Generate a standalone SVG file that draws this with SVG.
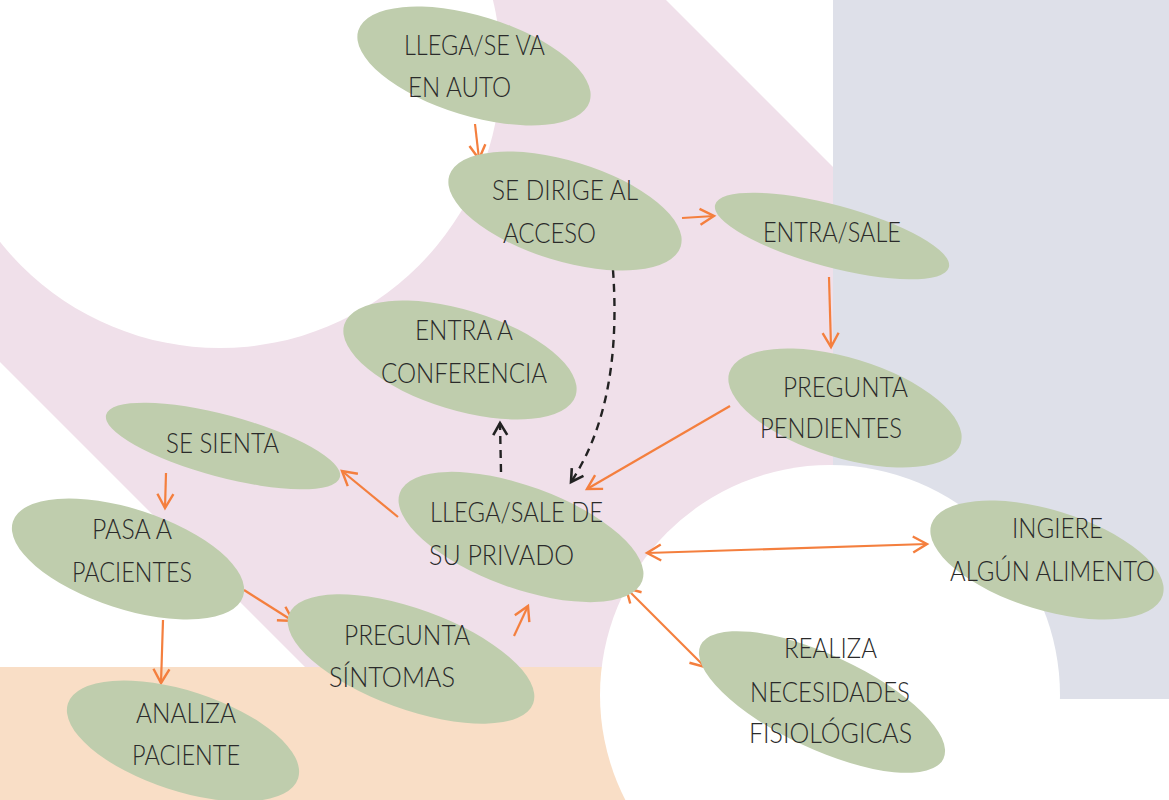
<svg xmlns="http://www.w3.org/2000/svg" width="1169" height="800" viewBox="0 0 1169 800">
<style>
.node ellipse{fill:#bfcdad}
.node text{font-family:Lato,"Liberation Sans",Arial,sans-serif;font-weight:300;font-size:27px;fill:#2a2a2a}
.c{fill:none;stroke:#f47f3e;stroke-width:2.2}
.d{fill:none;stroke:#222;stroke-width:2.4;stroke-dasharray:8 6}
</style>
<defs>
<marker id="ao" markerUnits="userSpaceOnUse" markerWidth="20" markerHeight="20" viewBox="0 0 20 20" refX="17" refY="10" orient="auto-start-reverse">
<path d="M3,2 L17,10 L3,18" fill="none" stroke="#f47f3e" stroke-width="2.4"/>
</marker>
<marker id="ab" markerUnits="userSpaceOnUse" markerWidth="20" markerHeight="20" viewBox="0 0 20 20" refX="17" refY="10" orient="auto">
<path d="M5,3 L17,10 L5,17" fill="none" stroke="#222" stroke-width="2.6"/>
</marker>
</defs>
<g id="background">
<rect x="0" y="0" width="1169" height="800" fill="#ffffff"/>
<polygon points="666,0 833,167 833,800 438,800 -362,0" fill="#f0e0ea"/>
<rect x="0" y="667" width="700" height="133" fill="#f9dec6"/>
<rect x="833" y="0" width="336" height="699" fill="#dee0e9"/>
<circle cx="220" cy="67" r="281" fill="#ffffff"/>
<circle cx="830" cy="695" r="230" fill="#ffffff"/>
</g>
<g id="connectors">
<line class="c" x1="475" y1="124" x2="479" y2="159" marker-end="url(#ao)"/>
<line class="c" x1="682" y1="218" x2="714" y2="216" marker-end="url(#ao)"/>
<line class="c" x1="829" y1="277" x2="831" y2="347" marker-end="url(#ao)"/>
<line class="c" x1="730" y1="406" x2="587" y2="489" marker-end="url(#ao)"/>
<path class="d" d="M613,270 C618,340 612,420 571,482" marker-end="url(#ab)"/>
<line class="d" x1="501" y1="472" x2="500" y2="423" marker-end="url(#ab)"/>
<line class="c" x1="398" y1="517" x2="342" y2="471" marker-end="url(#ao)"/>
<line class="c" x1="166" y1="473" x2="165" y2="508" marker-end="url(#ao)"/>
<line class="c" x1="244" y1="590" x2="293" y2="621" marker-end="url(#ao)"/>
<line class="c" x1="163" y1="620" x2="161" y2="683" marker-end="url(#ao)"/>
<line class="c" x1="514" y1="636" x2="528" y2="606" marker-end="url(#ao)"/>
<line class="c" x1="647" y1="553" x2="927" y2="544" marker-start="url(#ao)" marker-end="url(#ao)"/>
<line class="c" x1="626" y1="588" x2="705" y2="667" marker-start="url(#ao)" marker-end="url(#ao)"/>
</g>
<g id="n1" class="node">
<ellipse cx="474" cy="66" rx="121" ry="50" transform="rotate(17 474 66)"/>
<text x="404" y="55" textLength="141" lengthAdjust="spacingAndGlyphs">LLEGA/SE VA</text>
<text x="408" y="97" textLength="103" lengthAdjust="spacingAndGlyphs">EN AUTO</text>
</g>
<g id="n2" class="node">
<ellipse cx="565" cy="211" rx="121" ry="50" transform="rotate(17 565 211)"/>
<text x="492" y="200" textLength="146" lengthAdjust="spacingAndGlyphs">SE DIRIGE AL</text>
<text x="503" y="243" textLength="93" lengthAdjust="spacingAndGlyphs">ACCESO</text>
</g>
<g id="n3" class="node">
<ellipse cx="832" cy="236" rx="121" ry="31" transform="rotate(15 832 236)"/>
<text x="763" y="242" textLength="138" lengthAdjust="spacingAndGlyphs">ENTRA/SALE</text>
</g>
<g id="n4" class="node">
<ellipse cx="845" cy="408" rx="121" ry="50" transform="rotate(17 845 408)"/>
<text x="783" y="397" textLength="125" lengthAdjust="spacingAndGlyphs">PREGUNTA</text>
<text x="760" y="438" textLength="142" lengthAdjust="spacingAndGlyphs">PENDIENTES</text>
</g>
<g id="n5" class="node">
<ellipse cx="460" cy="360" rx="121" ry="50" transform="rotate(17 460 360)"/>
<text x="415" y="340" textLength="98" lengthAdjust="spacingAndGlyphs">ENTRA A</text>
<text x="381" y="383" textLength="166" lengthAdjust="spacingAndGlyphs">CONFERENCIA</text>
</g>
<g id="n6" class="node">
<ellipse cx="223" cy="446" rx="121" ry="31" transform="rotate(15 223 446)"/>
<text x="166" y="453" textLength="113" lengthAdjust="spacingAndGlyphs">SE SIENTA</text>
</g>
<g id="n7" class="node">
<ellipse cx="128" cy="559" rx="121" ry="50" transform="rotate(18 128 559)"/>
<text x="92" y="539" textLength="80" lengthAdjust="spacingAndGlyphs">PASA A</text>
<text x="72" y="582" textLength="120" lengthAdjust="spacingAndGlyphs">PACIENTES</text>
</g>
<g id="n8" class="node">
<ellipse cx="183" cy="741" rx="121" ry="50" transform="rotate(18 183 741)"/>
<text x="136" y="723" textLength="100" lengthAdjust="spacingAndGlyphs">ANALIZA</text>
<text x="132" y="765" textLength="108" lengthAdjust="spacingAndGlyphs">PACIENTE</text>
</g>
<g id="n9" class="node">
<ellipse cx="411" cy="659" rx="130" ry="50" transform="rotate(20 411 659)"/>
<text x="344" y="645" textLength="126" lengthAdjust="spacingAndGlyphs">PREGUNTA</text>
<text x="329" y="687" textLength="126" lengthAdjust="spacingAndGlyphs">SÍNTOMAS</text>
</g>
<g id="n10" class="node">
<ellipse cx="521" cy="537" rx="129" ry="51" transform="rotate(20 521 537)"/>
<text x="430" y="522" textLength="173" lengthAdjust="spacingAndGlyphs">LLEGA/SALE DE</text>
<text x="429" y="565" textLength="145" lengthAdjust="spacingAndGlyphs">SU PRIVADO</text>
</g>
<g id="n11" class="node">
<ellipse cx="1047" cy="560" rx="121" ry="50" transform="rotate(17 1047 560)"/>
<text x="1012" y="538" textLength="91" lengthAdjust="spacingAndGlyphs">INGIERE</text>
<text x="950" y="581" textLength="205" lengthAdjust="spacingAndGlyphs">ALGÚN ALIMENTO</text>
</g>
<g id="n12" class="node">
<ellipse cx="822" cy="702" rx="134" ry="47" transform="rotate(25 822 702)"/>
<text x="784" y="658" textLength="93" lengthAdjust="spacingAndGlyphs">REALIZA</text>
<text x="750" y="702" textLength="160" lengthAdjust="spacingAndGlyphs">NECESIDADES</text>
<text x="749" y="743" textLength="163" lengthAdjust="spacingAndGlyphs">FISIOLÓGICAS</text>
</g>
</svg>
